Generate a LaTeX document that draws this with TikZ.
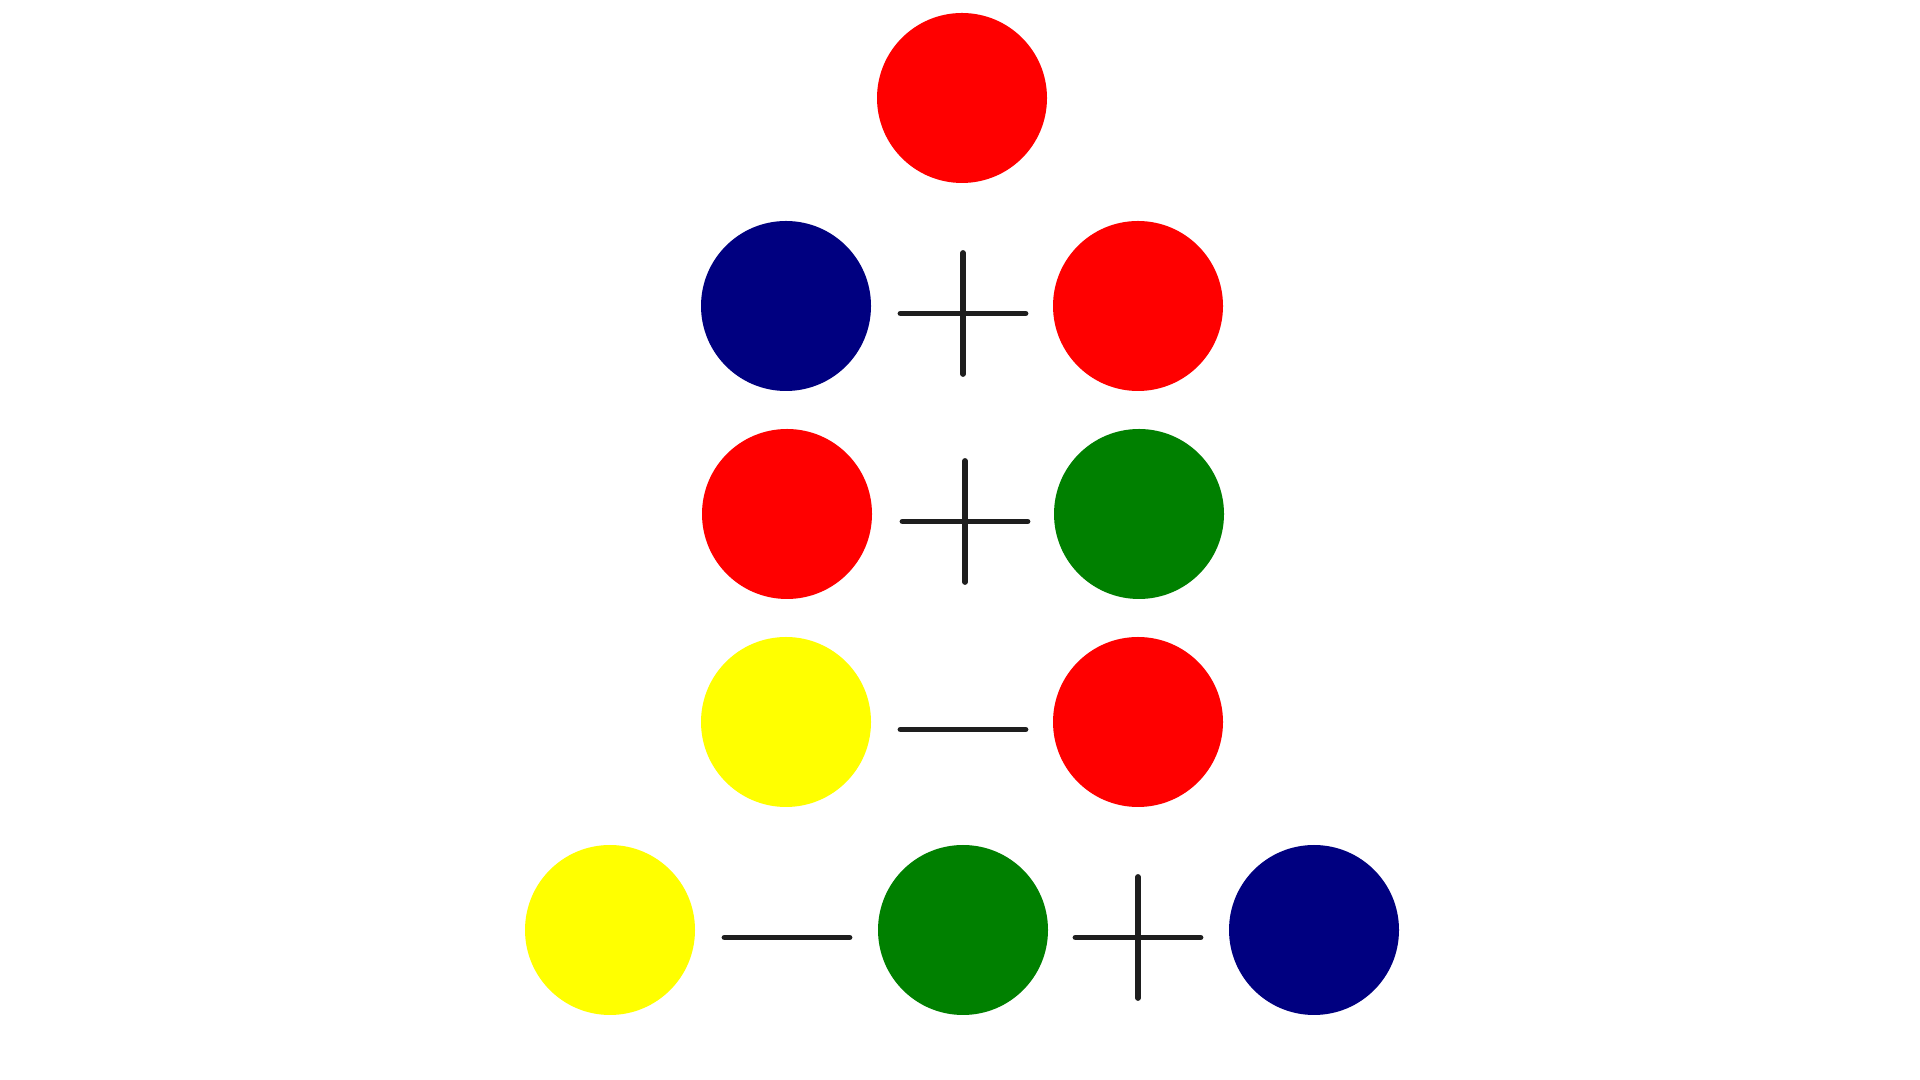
\documentclass[tikz,border=0pt]{standalone}

\definecolor{navyblue}{HTML}{000080}
\definecolor{darkgreen}{HTML}{008000}
\definecolor{pureyellow}{HTML}{FFFF00}
\definecolor{purered}{HTML}{FF0000}
\definecolor{signgray}{HTML}{1E1E1E}

\begin{document}
\begin{tikzpicture}[
    ball/.style={circle, minimum size=1.7cm, inner sep=0pt},
    sign/.style={signgray, line width=0.058cm, line cap=round}
]

\fill[white] (0,0) rectangle (19.2,10.8);
\useasboundingbox (0,0) rectangle (19.2,10.8);

% Ligne 1
\node[ball, fill=purered] (top) at (9.62,9.82) {};

% Ligne 2
\node[ball, fill=navyblue] (bleuA) at (7.86,7.74) {};
\node[ball, fill=purered] (rougeA) at (11.38,7.74) {};
\coordinate (plusA) at (9.63,7.665);

% Ligne 3
\node[ball, fill=purered] (rougeB) at (7.87,5.66) {};
\node[ball, fill=darkgreen] (vertB) at (11.39,5.66) {};
\coordinate (plusB) at (9.65,5.585);

% Ligne 4
\node[ball, fill=pureyellow] (jauneC) at (7.86,3.58) {};
\node[ball, fill=purered] (rougeC) at (11.38,3.58) {};
\coordinate (moinsC) at (9.63,3.505);

% Ligne 5
\node[ball, fill=pureyellow] (jauneD) at (6.10,1.50) {};
\node[ball, fill=darkgreen] (vertD) at (9.63,1.50) {};
\node[ball, fill=navyblue] (bleuD) at (13.14,1.50) {};
\coordinate (moinsD) at (7.87,1.425);
\coordinate (plusD) at (11.38,1.425);

% Signes
\foreach \p in {plusA, plusB, plusD} {
  \draw[sign] (\p) ++(-0.625,0) -- ++(1.25,0);
  \draw[sign] (\p) ++(0,-0.605) -- ++(0,1.21);
}
\foreach \m in {moinsC, moinsD} {
  \draw[sign] (\m) ++(-0.625,0) -- ++(1.25,0);
}

\end{tikzpicture}
\end{document}
